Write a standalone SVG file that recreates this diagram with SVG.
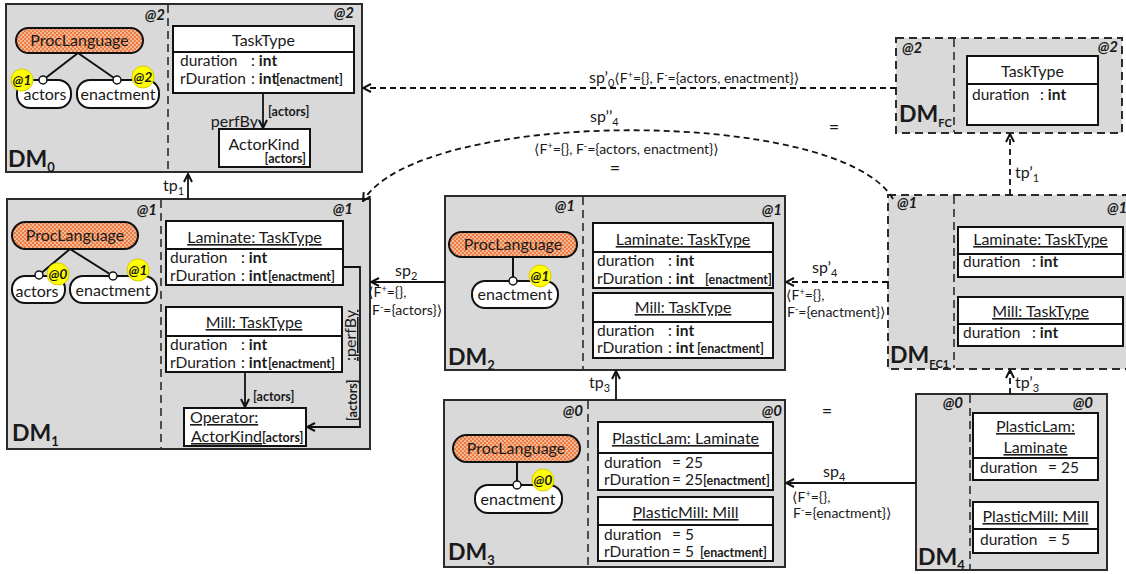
<svg xmlns="http://www.w3.org/2000/svg" width="1126" height="574" viewBox="0 0 1126 574">
<defs>
<style>
text{font-family:Lato,"Liberation Sans","DejaVu Sans",sans-serif;font-size:16px;fill:#1a1a1a}
.dm{fill:#d9d9d9;stroke:#2b2b2b;stroke-width:2}
.dmd{fill:#d9d9d9;stroke:#2b2b2b;stroke-width:2;stroke-dasharray:8 5}
.dv{stroke:#2b2b2b;stroke-width:1.6;stroke-dasharray:8 5;fill:none}
.bx{fill:#fff;stroke:#111;stroke-width:2}
.ln{stroke:#111;stroke-width:2;fill:none}
.pill{fill:url(#dots);stroke:#111;stroke-width:2}
.lit{fill:#fff;stroke:#111;stroke-width:2}
.knob{fill:#fff;stroke:#111;stroke-width:1.5}
.bdg{fill:#ffff00;stroke:#d8cc00;stroke-width:1}
.at{font-weight:bold;font-style:italic;font-size:15px;text-anchor:end}
.atl{font-weight:bold;font-style:italic;font-size:15px}
.bat{font-weight:bold;font-style:italic;font-size:14px;text-anchor:middle}
.c{text-anchor:middle}
.u{text-decoration:underline}
.b{font-weight:bold}
.f{font-size:15.5px}
.s{font-weight:bold;font-size:12.5px}
.dmt{font-weight:bold;font-size:23px}
.lb{font-size:14px}
.con{stroke:#111;stroke-width:1.8;fill:none}
.dash{stroke-dasharray:6 4}
.eq{font-size:18px;text-anchor:middle}
</style>
<pattern id="dots" width="4" height="4" patternUnits="userSpaceOnUse">
<rect width="4" height="4" fill="#e97d45"/>
<circle cx="1" cy="1" r="0.9" fill="#fbd3b8"/>
<circle cx="3" cy="3" r="0.9" fill="#fbd3b8"/>
</pattern>
<marker id="ah" viewBox="0 0 10 10" refX="9" refY="5" markerWidth="10" markerHeight="10" orient="auto" markerUnits="userSpaceOnUse">
<path d="M1,1 L9,5 L1,9" fill="none" stroke="#111" stroke-width="2"/>
</marker>
</defs>

<g id="dm0">
<rect class="dm" x="6" y="4" width="356" height="168"/>
<line class="dv" x1="168" y1="5" x2="168" y2="171"/>
<text class="at" x="165" y="20">@2</text>
<text class="at" x="354" y="18">@2</text>
<rect class="pill" x="16" y="28" width="127" height="25" rx="12.5"/>
<text class="c" x="79.5" y="46">ProcLanguage</text>
<path class="ln" d="M78,53 L43,80 M78,53 L117,80"/>
<rect class="lit" x="17" y="80" width="54" height="28" rx="13"/>
<text class="c" x="45" y="100">actors</text>
<rect class="lit" x="77" y="80" width="82" height="28" rx="13"/>
<text class="c" x="118" y="100">enactment</text>
<circle class="knob" cx="43" cy="80" r="4"/>
<circle class="knob" cx="117" cy="80" r="4"/>
<circle class="bdg" cx="22" cy="80" r="11"/>
<text class="bat" x="22" y="85">@1</text>
<circle class="bdg" cx="143" cy="77" r="11"/>
<text class="bat" x="143" y="82">@2</text>
<rect class="bx" x="173" y="26" width="181" height="67"/>
<line class="ln" x1="173" y1="52" x2="354" y2="52"/>
<text class="c" x="263.5" y="46">TaskType</text>
<text class="f" x="180" y="66">duration<tspan x="251">: </tspan><tspan class="b">int</tspan></text>
<text class="f" x="180" y="84">rDuration<tspan x="251">: </tspan><tspan class="b">int</tspan><tspan class="s" x="276">[enactment]</tspan></text>
<rect class="bx" x="219" y="129" width="91" height="38"/>
<text class="c" x="264" y="150">ActorKind</text>
<text class="s" x="306" y="163" text-anchor="end">[actors]</text>
<text class="dmt" x="8" y="167">DM<tspan font-size="13" baseline-shift="-5">0</tspan></text>
</g>

<g id="dm1">
<rect class="dm" x="7" y="199" width="363" height="250"/>
<line class="dv" x1="161" y1="200" x2="161" y2="448"/>
<text class="at" x="157" y="215">@1</text>
<text class="at" x="353" y="214">@1</text>
<rect class="pill" x="12" y="222" width="126" height="27" rx="13.5"/>
<text class="c" x="75" y="241">ProcLanguage</text>
<path class="ln" d="M70,249 L39,275 M70,249 L113,276"/>
<rect class="lit" x="12" y="276" width="53" height="27" rx="13"/>
<text class="c" x="37" y="297">actors</text>
<rect class="lit" x="70" y="276" width="87" height="27" rx="13"/>
<text class="c" x="113" y="296">enactment</text>
<circle class="knob" cx="39" cy="275" r="4"/>
<circle class="knob" cx="113" cy="276" r="4"/>
<circle class="bdg" cx="58" cy="274" r="11"/>
<text class="bat" x="58" y="279">@0</text>
<circle class="bdg" cx="138" cy="270" r="11"/>
<text class="bat" x="138" y="275">@1</text>
<rect class="bx" x="166" y="221" width="177" height="64"/>
<line class="ln" x1="166" y1="249" x2="343" y2="249"/>
<text class="c u" x="254.5" y="243">Laminate: TaskType</text>
<text class="f" x="170" y="263">duration<tspan x="241">: </tspan><tspan class="b">int</tspan></text>
<text class="f" x="170" y="281">rDuration<tspan x="241">: </tspan><tspan class="b">int</tspan><tspan class="s" x="268">[enactment]</tspan></text>
<rect class="bx" x="166" y="307" width="176" height="65"/>
<line class="ln" x1="166" y1="336" x2="342" y2="336"/>
<text class="c u" x="254" y="328">Mill: TaskType</text>
<text class="f" x="170" y="350">duration<tspan x="241">: </tspan><tspan class="b">int</tspan></text>
<text class="f" x="170" y="368">rDuration<tspan x="241">: </tspan><tspan class="b">int</tspan><tspan class="s" x="268">[enactment]</tspan></text>
<rect class="bx" x="184" y="408" width="122" height="38"/>
<text class="u" x="190" y="423">Operator:</text>
<text x="191" y="442"><tspan class="u">ActorKind</tspan><tspan class="s">[actors]</tspan></text>
<text class="dmt" x="12" y="441">DM<tspan font-size="13" baseline-shift="-5">1</tspan></text>
</g>

<g id="dm2">
<rect class="dm" x="445" y="196" width="340" height="174"/>
<line class="dv" x1="583" y1="197" x2="583" y2="369"/>
<text class="at" x="575" y="211">@1</text>
<text class="at" x="782" y="215">@1</text>
<rect class="pill" x="449" y="232" width="128" height="25" rx="12.5"/>
<text class="c" x="513" y="250">ProcLanguage</text>
<path class="ln" d="M513,257 L513,281"/>
<rect class="lit" x="472" y="281" width="86" height="27" rx="13"/>
<text class="c" x="515" y="300">enactment</text>
<circle class="knob" cx="513" cy="281" r="4"/>
<circle class="bdg" cx="540" cy="276" r="11"/>
<text class="bat" x="540" y="281">@1</text>
<rect class="bx" x="593" y="223" width="180" height="65"/>
<line class="ln" x1="593" y1="252" x2="773" y2="252"/>
<text class="c u" x="683" y="245">Laminate: TaskType</text>
<text class="f" x="597" y="266">duration<tspan x="668">: </tspan><tspan class="b">int</tspan></text>
<text class="f" x="597" y="284">rDuration<tspan x="668">: </tspan><tspan class="b">int</tspan><tspan class="s" x="705">[enactment]</tspan></text>
<rect class="bx" x="593" y="293" width="180" height="65"/>
<line class="ln" x1="593" y1="322" x2="773" y2="322"/>
<text class="c u" x="683" y="313">Mill: TaskType</text>
<text class="f" x="597" y="336">duration<tspan x="668">: </tspan><tspan class="b">int</tspan></text>
<text class="f" x="597" y="353">rDuration<tspan x="668">: </tspan><tspan class="b">int</tspan><tspan class="s" x="697">[enactment]</tspan></text>
<text class="dmt" x="448" y="365">DM<tspan font-size="13" baseline-shift="-5">2</tspan></text>
</g>

<g id="dm3">
<rect class="dm" x="444" y="400" width="341" height="167"/>
<line class="dv" x1="588" y1="401" x2="588" y2="566"/>
<text class="at" x="583" y="416">@0</text>
<text class="at" x="782" y="416">@0</text>
<rect class="pill" x="453" y="435" width="127" height="27" rx="13.5"/>
<text class="c" x="516" y="454">ProcLanguage</text>
<path class="ln" d="M517,462 L517,485"/>
<rect class="lit" x="475" y="485" width="87" height="28" rx="13"/>
<text class="c" x="518" y="505">enactment</text>
<circle class="knob" cx="517" cy="485" r="4"/>
<circle class="bdg" cx="543" cy="480" r="11"/>
<text class="bat" x="543" y="485">@0</text>
<rect class="bx" x="598" y="422" width="175" height="68"/>
<line class="ln" x1="598" y1="453" x2="773" y2="453"/>
<text class="c u" x="685.5" y="444">PlasticLam: Laminate</text>
<text class="f" x="604" y="468">duration<tspan x="672">= 25</tspan></text>
<text class="f" x="604" y="485">rDuration<tspan x="672">= 25</tspan><tspan class="s" x="703">[enactment]</tspan></text>
<rect class="bx" x="598" y="497" width="175" height="64"/>
<line class="ln" x1="598" y1="525" x2="773" y2="525"/>
<text class="c u" x="685.5" y="518">PlasticMill: Mill</text>
<text class="f" x="604" y="540">duration<tspan x="672">= 5</tspan></text>
<text class="f" x="604" y="557">rDuration<tspan x="672">= 5</tspan><tspan class="s" x="700">[enactment]</tspan></text>
<text class="dmt" x="448" y="560">DM<tspan font-size="13" baseline-shift="-5">3</tspan></text>
</g>

<g id="dm4">
<rect class="dm" x="916" y="394" width="191" height="176"/>
<line class="dv" x1="970" y1="395" x2="970" y2="569"/>
<text class="at" x="963" y="408">@0</text>
<text class="at" x="1093" y="408">@0</text>
<rect class="bx" x="973" y="413" width="125" height="67"/>
<line class="ln" x1="973" y1="458" x2="1098" y2="458"/>
<text class="c u" x="1035.5" y="432">PlasticLam:</text>
<text class="c u" x="1035.5" y="453">Laminate</text>
<text class="f" x="980" y="473">duration<tspan x="1048">= 25</tspan></text>
<rect class="bx" x="973" y="502" width="125" height="51"/>
<line class="ln" x1="973" y1="529" x2="1098" y2="529"/>
<text class="c u" x="1035.5" y="522">PlasticMill: Mill</text>
<text class="f" x="980" y="545">duration<tspan x="1048">= 5</tspan></text>
<text class="dmt" x="918" y="565">DM<tspan font-size="13" baseline-shift="-5">4</tspan></text>
</g>

<g id="dmfc">
<rect class="dmd" x="896" y="38" width="226" height="95"/>
<line class="dv" x1="954" y1="39" x2="954" y2="132"/>
<text class="atl" x="902" y="53">@2</text>
<text class="at" x="1118" y="52">@2</text>
<rect class="bx" x="967" y="56" width="131" height="69"/>
<line class="ln" x1="967" y1="84" x2="1098" y2="84"/>
<text class="c" x="1032.5" y="77">TaskType</text>
<text class="f" x="972" y="100">duration<tspan x="1040">: </tspan><tspan class="b">int</tspan></text>
<text class="dmt" x="899" y="122" font-size="22">DM<tspan font-size="11" baseline-shift="-5">FC</tspan></text>
</g>

<g id="dmfc1">
<rect class="dmd" x="888" y="195" width="250" height="174"/>
<line class="dv" x1="954" y1="196" x2="954" y2="368"/>
<text class="atl" x="897" y="208">@1</text>
<text class="atl" x="1107" y="213">@1</text>
<rect class="bx" x="958" y="227" width="165" height="50"/>
<line class="ln" x1="958" y1="254" x2="1123" y2="254"/>
<text class="c u" x="1040.5" y="245">Laminate: TaskType</text>
<text class="f" x="963" y="267">duration<tspan x="1032">: </tspan><tspan class="b">int</tspan></text>
<rect class="bx" x="958" y="297" width="165" height="49"/>
<line class="ln" x1="958" y1="324" x2="1123" y2="324"/>
<text class="c u" x="1040.5" y="317">Mill: TaskType</text>
<text class="f" x="963" y="338">duration<tspan x="1032">: </tspan><tspan class="b">int</tspan></text>
<text class="dmt" x="890" y="363" font-size="22">DM<tspan font-size="11" baseline-shift="-5">FC1</tspan></text>
</g>

<g id="connectors">
<path class="con" d="M263,93 V128" marker-end="url(#ah)"/>
<text x="258" y="127" text-anchor="end">perfBy</text>
<text class="s" x="268" y="116">[actors]</text>
<path class="con" d="M245,372 V407" marker-end="url(#ah)"/>
<text class="s" x="253" y="401">[actors]</text>
<path class="con" d="M343,267 H360 V427 H307" marker-end="url(#ah)"/>
<text class="u" transform="translate(356,361) rotate(-90)">:perfBy</text>
<text class="s" transform="translate(357,421) rotate(-90)">[actors]</text>

<path class="con" d="M188,199 V174" marker-end="url(#ah)"/>
<text x="163" y="191">tp<tspan font-size="11" baseline-shift="-4">1</tspan></text>

<path class="con dash" d="M896,88 H363" marker-end="url(#ah)"/>
<text x="589" y="83">sp’<tspan font-size="11" baseline-shift="-4">0</tspan><tspan class="lb">⟨F<tspan font-size="9" baseline-shift="5">+</tspan>={}, F<tspan font-size="9" baseline-shift="5">-</tspan>={actors, enactment}⟩</tspan></text>

<path class="con dash" d="M893,199 C840,107 420,107 363,201" marker-end="url(#ah)"/>
<text x="590" y="122">sp’’<tspan font-size="11" baseline-shift="-4">4</tspan></text>
<text class="lb" x="534" y="154">⟨F<tspan font-size="9" baseline-shift="5">+</tspan>={}, F<tspan font-size="9" baseline-shift="5">-</tspan>={actors, enactment}⟩</text>
<text class="eq" x="615" y="174">=</text>
<text class="eq" x="834" y="133">=</text>

<path class="con" d="M445,282 H371" marker-end="url(#ah)"/>
<text x="395" y="276">sp<tspan font-size="11" baseline-shift="-4">2</tspan></text>
<text class="lb" x="368" y="297">⟨F<tspan font-size="9" baseline-shift="5">+</tspan>={},</text>
<text class="lb" x="372" y="315">F<tspan font-size="9" baseline-shift="5">-</tspan>={actors}⟩</text>

<path class="con dash" d="M888,282 H786" marker-end="url(#ah)"/>
<text x="812" y="273">sp’<tspan font-size="11" baseline-shift="-4">4</tspan></text>
<text class="lb" x="786" y="300">⟨F<tspan font-size="9" baseline-shift="5">+</tspan>={},</text>
<text class="lb" x="787" y="317">F<tspan font-size="9" baseline-shift="5">-</tspan>={enactment}⟩</text>

<path class="con dash" d="M1010,195 V134" marker-end="url(#ah)"/>
<text x="1015" y="178">tp’<tspan font-size="11" baseline-shift="-4">1</tspan></text>

<path class="con" d="M616,400 V371" marker-end="url(#ah)"/>
<text x="589" y="388">tp<tspan font-size="11" baseline-shift="-4">3</tspan></text>
<text class="eq" x="827" y="417">=</text>

<path class="con" d="M916,483 H786" marker-end="url(#ah)"/>
<text x="823" y="477">sp<tspan font-size="11" baseline-shift="-4">4</tspan></text>
<text class="lb" x="792" y="502">⟨F<tspan font-size="9" baseline-shift="5">+</tspan>={},</text>
<text class="lb" x="793" y="518">F<tspan font-size="9" baseline-shift="5">-</tspan>={enactment}⟩</text>

<path class="con dash" d="M1010,394 V370" marker-end="url(#ah)"/>
<text x="1015" y="388">tp’<tspan font-size="11" baseline-shift="-4">3</tspan></text>
</g>
</svg>
